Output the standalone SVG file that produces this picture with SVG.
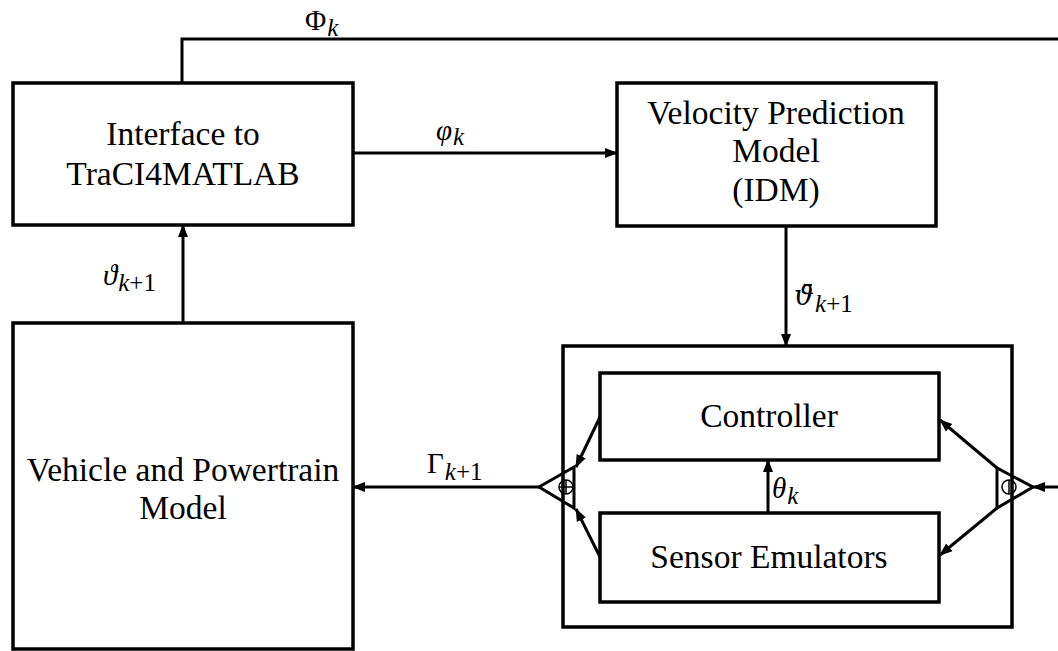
<svg xmlns="http://www.w3.org/2000/svg" width="1058" height="651" viewBox="0 0 1058 651">
<style>
.box{fill:none;stroke:#000;stroke-width:3.5}
.ln{fill:none;stroke:#000;stroke-width:3}
.lbl{font-family:"Liberation Serif","Times New Roman",serif;font-size:33.5px;fill:#000;text-anchor:middle}
.m{font-family:"Liberation Serif","DejaVu Serif",serif;font-size:29px;fill:#000}
.mi{font-style:italic}
.up{font-style:normal}
.sub{font-size:25px}
</style>
<defs>
<marker id="ah" markerUnits="userSpaceOnUse" markerWidth="14" markerHeight="12" refX="12" refY="6" orient="auto">
<path d="M0,1 L13,6 L0,11 Z" fill="#000"/>
</marker>
</defs>
<rect width="1058" height="651" fill="#fff"/>
<g id="interface">
<rect class="box" x="13" y="83" width="340" height="142"/>
<text class="lbl" x="183" y="145">Interface to</text>
<text class="lbl" x="183" y="185">TraCI4MATLAB</text>
</g>
<g id="velocity">
<rect class="box" x="617" y="83" width="319" height="143"/>
<text class="lbl" x="776" y="124">Velocity Prediction</text>
<text class="lbl" x="776" y="162">Model</text>
<text class="lbl" x="776" y="201">(IDM)</text>
</g>
<g id="vehicle">
<rect class="box" x="13" y="323" width="340" height="326"/>
<text class="lbl" x="183" y="481">Vehicle and Powertrain</text>
<text class="lbl" x="183" y="519">Model</text>
</g>
<g id="ecu">
<rect class="box" x="563" y="346" width="449" height="281"/>
</g>
<g id="controller">
<rect class="box" x="600" y="373" width="339" height="87"/>
<text class="lbl" x="769" y="427">Controller</text>
</g>
<g id="sensor">
<rect class="box" x="600" y="513" width="339" height="89"/>
<text class="lbl" x="769" y="568">Sensor Emulators</text>
</g>
<g id="sum-left">
<path class="ln" d="M574,467 L574,508 L539,487 Z" fill="#fff"/>
<circle cx="566" cy="487" r="7" fill="none" stroke="#000" stroke-width="1.5"/>
<path d="M559,487 H573 M566,480 V494" stroke="#000" stroke-width="1.5"/>
</g>
<g id="split-right">
<path class="ln" d="M997,468 L997,508 L1033,487 Z" fill="#fff"/>
<circle cx="1009" cy="487" r="7" fill="none" stroke="#000" stroke-width="1.5"/>
<path d="M1009,480 V494" stroke="#000" stroke-width="1.5"/>
</g>
<g id="connectors">
<path class="ln" d="M182,83 V39 H1058"/>
<path class="ln" d="M353,153 H617" marker-end="url(#ah)"/>
<path class="ln" d="M786,226 V346" marker-end="url(#ah)"/>
<path class="ln" d="M183,323 V225" marker-end="url(#ah)"/>
<path class="ln" d="M539,487 H353" marker-end="url(#ah)"/>
<path class="ln" d="M768,513 V460" marker-end="url(#ah)"/>
<path class="ln" d="M600,417 L576,467" marker-end="url(#ah)"/>
<path class="ln" d="M600,557 L576,509" marker-end="url(#ah)"/>
<path class="ln" d="M1058,487 H1033" marker-end="url(#ah)"/>
<path class="ln" d="M997,468 L940,420" marker-end="url(#ah)"/>
<path class="ln" d="M997,508 L940,555" marker-end="url(#ah)"/>
</g>
<g id="labels">
<text class="m" x="305" y="30" font-size="27">Φ<tspan class="sub mi" dx="1" dy="6" font-size="24">k</tspan></text>
<text class="m mi" x="436" y="140" font-size="31">φ<tspan class="sub" dx="1" dy="5">k</tspan></text>
<text class="m mi" x="103" y="285" font-size="34">ϑ<tspan class="sub" dx="1" dy="6">k</tspan><tspan class="sub up">+1</tspan></text>
<text class="mi" x="794" y="305" font-family="DejaVu Serif" font-size="28">ϑ̄<tspan class="m sub" dx="1" dy="7">k</tspan><tspan class="m sub up">+1</tspan></text>
<text class="m" x="427" y="473" font-size="29">Γ<tspan class="sub mi" dx="1" dy="7">k</tspan><tspan class="sub">+1</tspan></text>
<text class="m mi" x="772" y="498" font-size="30">θ<tspan class="sub" dx="1" dy="6">k</tspan></text>
</g>
</svg>
